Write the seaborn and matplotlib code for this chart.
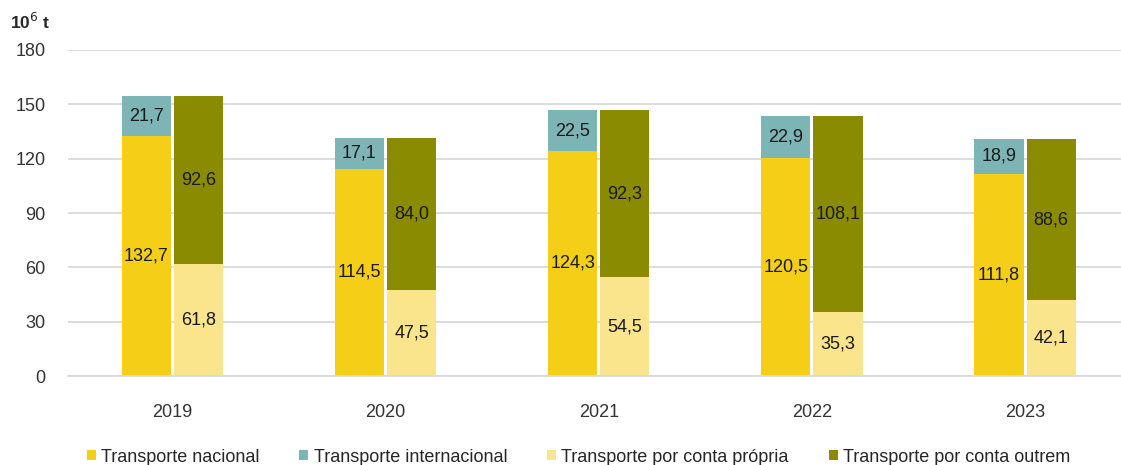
import matplotlib
matplotlib.use("Agg")
import matplotlib.pyplot as plt
import seaborn as sns
import pandas as pd
from matplotlib.patches import Patch

years = ["2019", "2020", "2021", "2022", "2023"]
nacional = [132.7, 114.5, 124.3, 120.5, 111.8]
internacional = [21.7, 17.1, 22.5, 22.9, 18.9]
conta_propria = [61.8, 47.5, 54.5, 35.3, 42.1]
conta_outrem = [92.6, 84.0, 92.3, 108.1, 88.6]
series_names = ["Transporte nacional", "Transporte internacional",
                "Transporte por conta própria", "Transporte por conta outrem"]
colors = ["#F5CF17", "#7DB4B5", "#FBE58C", "#8A8B00"]

sns.set_theme(style="white")
plt.rcParams["font.family"] = ["Liberation Sans", "DejaVu Sans"]

left = pd.DataFrame({"year": years, "side": "a",
                     "bottom": nacional,
                     "total": [n + i for n, i in zip(nacional, internacional)]})
right = pd.DataFrame({"year": years, "side": "b",
                      "bottom": conta_propria,
                      "total": [p + o for p, o in zip(conta_propria, conta_outrem)]})
df = pd.concat([left, right], ignore_index=True)

fig = plt.figure(figsize=(11.21, 4.65), dpi=100)
ax = fig.add_axes([68 / 1121, 89 / 465, 1 - 68 / 1121, 326 / 465])

sns.barplot(data=df, x="year", y="total", hue="side",
            palette=[colors[1], colors[3]], width=0.49, gap=0.06,
            legend=False, ax=ax, saturation=1, linewidth=0)
sns.barplot(data=df, x="year", y="bottom", hue="side",
            palette=[colors[0], colors[2]], width=0.49, gap=0.06,
            legend=False, ax=ax, saturation=1, linewidth=0)

# labels: containers 0,1 = totals (left,right); 2,3 = bottoms
tops = [ax.containers[0], ax.containers[1]]
bots = [ax.containers[2], ax.containers[3]]
top_vals = [internacional, conta_outrem]
bot_vals = [nacional, conta_propria]
for k in range(2):
    for j, (pt, pb) in enumerate(zip(tops[k], bots[k])):
        xc = pb.get_x() + pb.get_width() / 2
        hb = pb.get_height()
        ht = pt.get_height()
        ax.text(xc, hb / 2, f"{bot_vals[k][j]:.1f}".replace(".", ","),
                ha="center", va="center", fontsize=13, color="#1a1a1a")
        ax.text(xc, (hb + ht) / 2, f"{top_vals[k][j]:.1f}".replace(".", ","),
                ha="center", va="center", fontsize=13, color="#1a1a1a")

ax.set_ylim(0, 180)
ax.set_yticks(range(0, 181, 30))
ax.set_xlim(-0.49, 4.45)
ax.yaxis.grid(True, color="#D9D9D9", linewidth=1.3)
ax.set_axisbelow(True)
for s in ["top", "right", "left"]:
    ax.spines[s].set_visible(False)
ax.spines["bottom"].set_color("#D9D9D9")
ax.spines["bottom"].set_linewidth(1.3)
ax.tick_params(axis="both", length=0, labelsize=13, colors="#333333")
ax.tick_params(axis="x", pad=20)
ax.tick_params(axis="y", pad=16)
ax.set_xlabel("")
ax.set_ylabel("")

fig.text(10 / 1121, 1 - 22 / 465, "10$^{6}$ t", fontsize=12.5, fontweight="bold",
         va="center", ha="left")

handles = [Patch(facecolor=c, edgecolor="none") for c in colors]
fig.legend(handles, series_names, loc="center", ncol=4,
           bbox_to_anchor=(0.516, 1 - 457 / 465), frameon=False, fontsize=13,
           handlelength=0.5, handleheight=0.5, handletextpad=0.3,
           columnspacing=2.2)

fig.savefig("out.png", dpi=100)
